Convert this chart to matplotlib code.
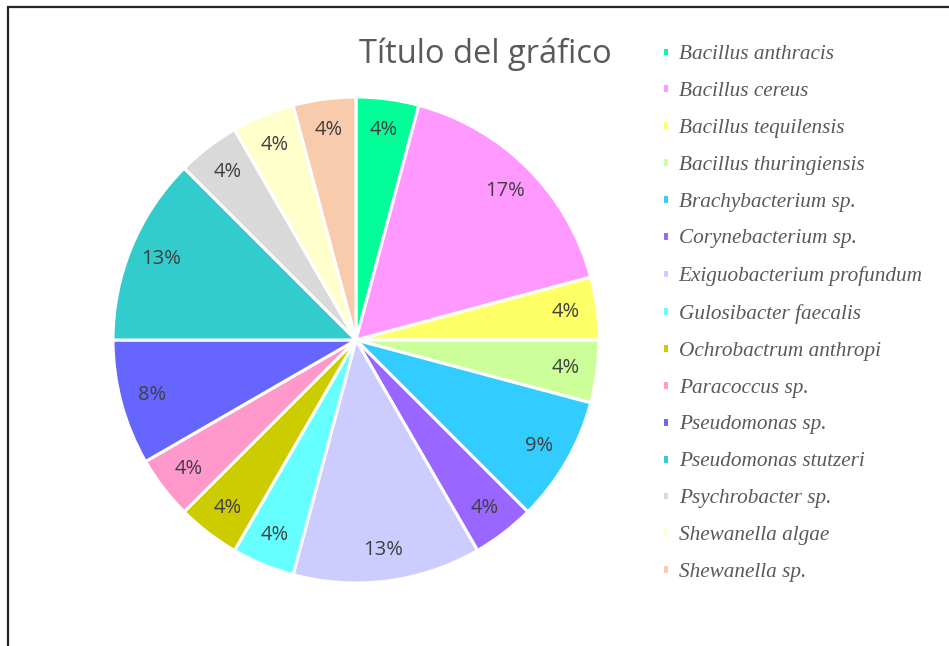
import matplotlib
matplotlib.use("Agg")
import matplotlib.pyplot as plt
from matplotlib.patches import Rectangle
import numpy as np

species = ["Bacillus anthracis", "Bacillus cereus", "Bacillus tequilensis",
           "Bacillus thuringiensis", "Brachybacterium sp.", "Corynebacterium sp.",
           "Exiguobacterium profundum", "Gulosibacter faecalis", "Ochrobactrum anthropi",
           "Paracoccus sp.", "Pseudomonas sp.", "Pseudomonas stutzeri",
           "Psychrobacter sp.", "Shewanella algae", "Shewanella sp."]
counts = [1, 4, 1, 1, 2, 1, 3, 1, 1, 1, 2, 3, 1, 1, 1]
pct_labels = ["4%", "17%", "4%", "4%", "9%", "4%", "13%", "4%", "4%", "4%",
              "8%", "13%", "4%", "4%", "4%"]
colors = ["#00FF99", "#FF99FF", "#FFFF66", "#CCFF99", "#33CCFF", "#9966FF",
          "#CCCCFF", "#66FFFF", "#CCCC00", "#FF99CC", "#6666FF", "#33CCCC",
          "#D9D9D9", "#FFFFCC", "#F8CBAD"]

W, H = 949, 646
fig = plt.figure(figsize=(W / 100, H / 100), dpi=100)

# outer chart border (only top and left edges fall inside the image)
fig.patches.append(Rectangle((8 / W, -0.1), 1.2, (H - 7) / H + 0.1,
                             transform=fig.transFigure, fill=False,
                             edgecolor="#262626", linewidth=1.6))

cx, cy, r = 356, 340, 243
ax = fig.add_axes([(cx - r) / W, (H - cy - r) / H, 2 * r / W, 2 * r / H])

wedges, _ = ax.pie(counts, colors=colors, startangle=90, counterclock=False,
                   radius=1, wedgeprops=dict(edgecolor="white", linewidth=2.2))

# percentage labels placed on the wedges
total = sum(counts)
angle = 90.0
for c, lab in zip(counts, pct_labels):
    span = 360.0 * c / total
    mid = np.deg2rad(angle - span / 2)
    ax.text(0.87 * np.cos(mid), 0.87 * np.sin(mid), lab, ha="center", va="center",
            fontsize=14.5, color="#404040", family="Open Sans")
    angle -= span

ax.set_xlim(-1, 1)
ax.set_ylim(-1, 1)
ax.set_aspect("equal")
ax.axis("off")

fig.text(485 / W, 1 - 54 / H, "Título del gráfico", ha="center", va="center",
         fontsize=23.5, color="#595959", family="Open Sans")

leg = fig.legend(wedges, species, loc="upper left", bbox_to_anchor=(643 / W, 1 - 26 / H),
                 frameon=False, handlelength=0.33, handleheight=0.33, handletextpad=0.45,
                 labelspacing=0.84,
                 prop=dict(family="Liberation Serif", style="italic", size=15.3))
for t in leg.get_texts():
    t.set_color("#595959")

fig.savefig("out.png", dpi=100, facecolor="white")
